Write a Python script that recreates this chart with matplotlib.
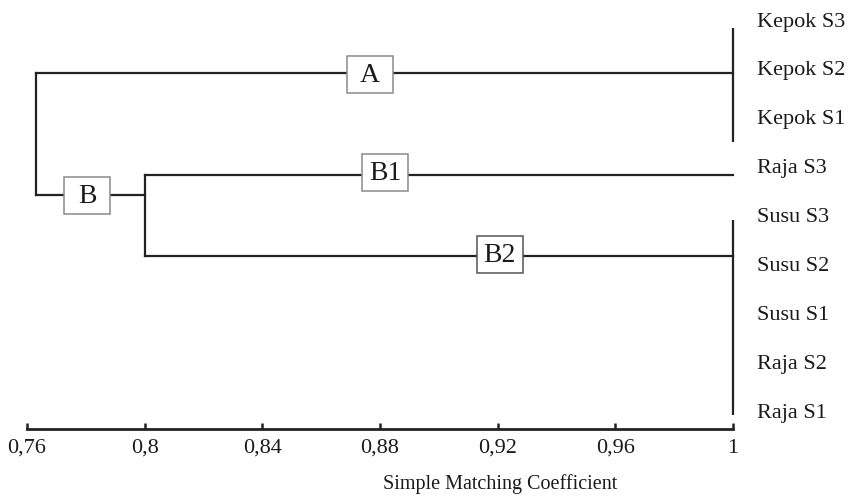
import numpy as np
import matplotlib.pyplot as plt
from matplotlib.patches import Rectangle

plt.rcParams['font.family'] = ['Liberation Serif', 'DejaVu Serif']

# leaves, top to bottom
leaves = ['Kepok S3', 'Kepok S2', 'Kepok S1', 'Raja S3', 'Susu S3',
          'Susu S2', 'Susu S1', 'Raja S2', 'Raja S1']

# similarity levels of the merges
root_sim = 0.763
b_sim = 0.80
leaf_sim = 1.0

# clusters of identical samples (first row, last row of the vertical bar)
kepok_span = (0.12, 2.45)
susu_span = (4.05, 8.04)

# rows where the branches run
row_A = 1.04
row_B1 = 3.12
row_B2 = 4.78
row_B = 3.54

# group labels: name, x, row
group_names = ['A', 'B', 'B1', 'B2']
group_x = [0.8766, 0.7804, 0.8817, 0.9207]
group_rows = [row_A + 0.04, row_B + 0.0, row_B1 - 0.04, row_B2 - 0.02]
group_edge = ['#8a8a8a', '#8a8a8a', '#8a8a8a', '#555555']

ticks = [0.76, 0.80, 0.84, 0.88, 0.92, 0.96, 1.0]
tick_labels = ['0,76', '0,8', '0,84', '0,88', '0,92', '0,96', '1']

lc = '#222222'
lw = 1.6

fig = plt.figure(figsize=(8.52, 5.0), dpi=100)
ax = fig.add_axes([27 / 852, 71 / 500, (733 - 27) / 852, 429 / 500])

# vertical bars of identical clusters
ax.plot([leaf_sim, leaf_sim], kepok_span, color=lc, lw=lw, solid_capstyle='butt', clip_on=False)
ax.plot([leaf_sim, leaf_sim], susu_span, color=lc, lw=lw, solid_capstyle='butt', clip_on=False)

# branches
ax.plot([root_sim, leaf_sim], [row_A, row_A], color=lc, lw=lw, clip_on=False)
ax.plot([b_sim, leaf_sim], [row_B1, row_B1], color=lc, lw=lw, clip_on=False)
ax.plot([b_sim, leaf_sim], [row_B2, row_B2], color=lc, lw=lw, clip_on=False)
ax.plot([root_sim, b_sim], [row_B, row_B], color=lc, lw=lw)
ax.plot([b_sim, b_sim], [row_B1, row_B2], color=lc, lw=lw)
ax.plot([root_sim, root_sim], [row_A, row_B], color=lc, lw=lw)

# group boxes (fixed size, ~46 x 37 px)
bw = 46 / 706 * 0.24
bh = 37 / 48.9
for name, gx, gr, ec in zip(group_names, group_x, group_rows, group_edge):
    ax.add_patch(Rectangle((gx - bw / 2, gr - bh / 2), bw, bh, fc='white',
                           ec=ec, lw=1.1, zorder=4))
    ax.text(gx, gr + 0.02, name, fontsize=20, ha='center', va='center',
            color='#1a1a1a', zorder=5)

# leaf labels
for i, name in enumerate(leaves):
    ax.annotate(name, xy=(leaf_sim, i), xytext=(24, 0), textcoords='offset pixels',
                ha='left', va='center', fontsize=16, color='#1a1a1a',
                annotation_clip=False)

ax.set_xlim(0.76, 1.0)
ax.set_ylim(8.323, -0.45)

for s in ['top', 'right', 'left']:
    ax.spines[s].set_visible(False)
ax.spines['bottom'].set_linewidth(2)
ax.spines['bottom'].set_color(lc)
ax.set_yticks([])
ax.set_xticks(ticks)
ax.set_xticklabels(tick_labels, fontsize=16, color='#1a1a1a')
ax.tick_params(axis='x', direction='in', length=4, width=1.8, color=lc, pad=7)

ax.set_xlabel('Simple Matching Coefficient', fontsize=14.5, color='#1a1a1a')
ax.xaxis.set_label_coords((500 - 27) / (733 - 27), -0.105)

fig.savefig('out.png', dpi=100)
